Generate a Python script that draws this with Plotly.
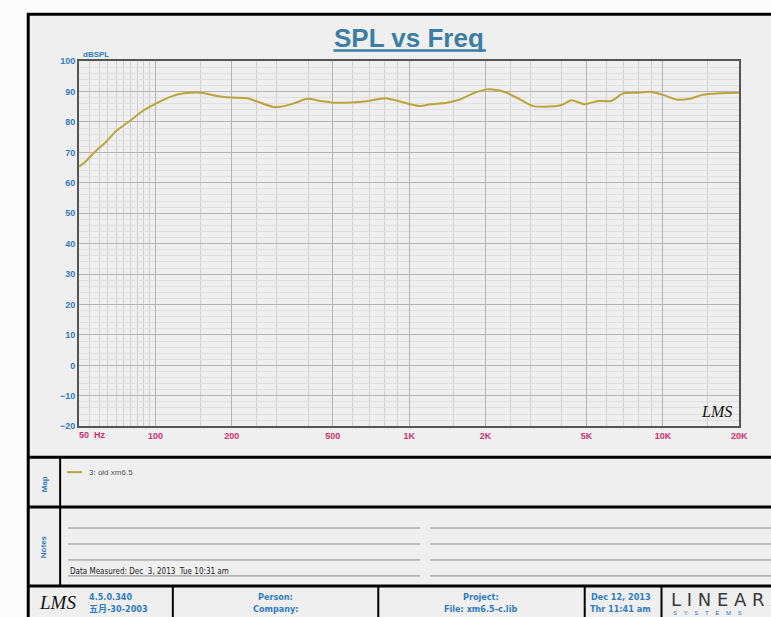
import math
import plotly.graph_objects as go

# ---------------- data ----------------
freq_hz = [50, 53.3, 58.3, 63.8, 69.9, 77.7, 89.0, 98.9, 116.7, 129.7, 150.9, 175.5,
           198.0, 230.2, 259.6, 292.8, 311, 351, 396, 447, 504, 586, 682, 805, 922,
           1009, 1105, 1210, 1407, 1587, 1790, 2021, 2212, 2421, 2732, 3081, 3807,
           4042, 4359, 4919, 5549, 6266, 6961, 7852, 8860, 9993, 11283, 12726,
           14352, 16700, 19700, 20000]
spl_db = [65.3, 67.2, 70.5, 73.4, 77.0, 79.8, 83.6, 85.8, 88.5, 89.4, 89.6, 88.5,
          88.0, 87.8, 86.3, 84.9, 85.0, 86.1, 87.6, 86.9, 86.3, 86.4, 86.8, 87.8, 86.7,
          85.8, 85.2, 85.8, 86.3, 87.4, 89.4, 90.7, 90.5, 89.6, 87.4, 85.2, 85.2,
          85.8, 87.1, 85.8, 86.9, 86.9, 89.4, 89.6, 89.9, 88.9, 87.4, 87.6,
          88.9, 89.4, 89.6, 89.6]

x_tick_vals = [50, 100, 200, 500, 1000, 2000, 5000, 10000, 20000]
x_tick_text = ["", "100", "200", "500", "1K", "2K", "5K", "10K", "20K"]
x_minor_vals = [55, 60, 65, 70, 75, 80, 85, 90, 95,
                150, 250, 300, 400, 600, 700, 800, 900,
                1500, 2500, 3000, 4000, 6000, 7000, 8000, 9000,
                15000]
series_name = "3: old xm6.5"

W, H = 771, 617


# screen pixel -> paper fraction (compensates the capture offset/scale seen)
def px(x):
    return ((x + 1.3) / 0.991) / W


def py(y):
    return 1 - ((y - 3.8) / 0.986) / H


TITLE_C = "#3b7ea3"
BLUE = "#2f7cc0"
MAG = "#cf2f6e"
CURVE = "#bba53a"
FONT = "Liberation Sans, Arial, sans-serif"
NARROW = "Liberation Sans Narrow, DejaVu Sans Condensed, Noto Sans CJK SC, sans-serif"

fig = go.Figure()
fig.add_trace(go.Scatter(x=freq_hz, y=spl_db, mode="lines", name=series_name,
                         line=dict(color=CURVE, width=2, shape="spline", smoothing=0.6),
                         showlegend=False, hoverinfo="skip"))

shapes = []


def line(x0, y0, x1, y1, color="black", width=3):
    shapes.append(dict(type="line", xref="paper", yref="paper",
                       x0=px(x0), y0=py(y0), x1=px(x1), y1=py(y1),
                       line=dict(color=color, width=width), layer="below"))


# outer panel
shapes.append(dict(type="rect", xref="paper", yref="paper",
                   x0=px(27), y0=py(13), x1=px(800), y1=py(650),
                   fillcolor="#efefef", line=dict(color="black", width=3), layer="below"))
line(27, 457, 780, 457)
line(27, 507, 780, 507)
line(27, 586, 780, 586)
line(59, 457, 59, 586, width=2)
for xv in [172, 378, 585, 662]:
    line(xv, 586, xv, 630, width=2)
# title underline
line(333, 49.5, 486, 49.5, color=TITLE_C, width=2.5)
# notes lines
for yv in [528, 544, 560, 576]:
    line(67, yv, 420, yv, color="#8a8a8a", width=1)
    line(430, yv, 780, yv, color="#8a8a8a", width=1)
# legend line
line(66, 472, 81, 472, color=CURVE, width=2)

ann = []


def text(x, y, t, size=9, color=BLUE, xanchor="center", yanchor="middle",
         family=NARROW, weight="bold", angle=0, style="normal"):
    ann.append(dict(x=px(x), y=py(y), xref="paper", yref="paper", text=t,
                    showarrow=False, xanchor=xanchor, yanchor=yanchor, textangle=angle,
                    font=dict(size=size, color=color, family=family, weight=weight,
                              style=style)))


text(409, 37, "SPL vs Freq", size=26, color=TITLE_C, family=FONT)
text(80, 53, "dBSPL", size=8, color=BLUE, xanchor="left", family=FONT)
text(76, 435, "50\u00a0\u00a0Hz", size=9, color=MAG, xanchor="left", family=FONT)
text(700, 411, "LMS", size=16, color="#111", xanchor="left", family="Liberation Serif, serif",
     weight="normal", style="italic")
text(86, 472, series_name, size=8, color="#555", xanchor="left", family=FONT, weight="normal")
text(43, 484, "Map", size=8, angle=-90, family=FONT)
text(43, 547, "Notes", size=8, angle=-90, family=FONT)
text(67, 572, "Data Measured: Dec  3, 2013  Tue 10:31 am", size=8, color="#222",
     xanchor="left", family=NARROW, weight="normal")
# footer
text(36, 603, "LMS", size=19, color="#111", xanchor="left", family="Liberation Serif, serif",
     weight="normal", style="italic")
text(86, 597, "4.5.0.340", size=9, xanchor="left")
text(86, 609, "五月-30-2003", size=9, xanchor="left")
text(275, 597, "Person:", size=9)
text(275, 609, "Company:", size=9)
text(481, 597, "Project:", size=9)
text(481, 609, "File: xm6.5-c.lib", size=9)
text(621, 597, "Dec 12, 2013", size=9)
text(621, 609, "Thr 11:41 am", size=9)
text(670, 600, "L\u00a0I\u00a0N\u00a0E\u00a0A\u00a0R\u00a0X", size=18, color="#3a3a3a",
     xanchor="left", family="DejaVu Sans, sans-serif", weight="normal")
text(672, 613, "S\u00a0\u00a0\u00a0\u00a0Y\u00a0\u00a0\u00a0\u00a0S\u00a0\u00a0\u00a0\u00a0T\u00a0\u00a0\u00a0\u00a0E\u00a0\u00a0\u00a0\u00a0M\u00a0\u00a0\u00a0\u00a0S",
     size=6, color=BLUE, xanchor="left", family=FONT, weight="normal")

fig.update_layout(
    width=W, height=H, margin=dict(l=0, r=0, t=0, b=0),
    paper_bgcolor="#fcfcfc", plot_bgcolor="#fbfbfb",
    shapes=shapes, annotations=ann, showlegend=False,
    xaxis=dict(type="log", range=[math.log10(50), math.log10(20000)],
               domain=[px(78), px(740)],
               tickmode="array", tickvals=x_tick_vals, ticktext=x_tick_text,
               tickfont=dict(size=9, color=MAG, family=FONT, weight="bold"),
               showgrid=True, gridcolor="#b3b3b3", gridwidth=1,
               minor=dict(tickmode="array", tickvals=x_minor_vals, showgrid=True,
                          gridcolor="#d0d0d0", gridwidth=1, ticks=""),
               showline=True, linecolor="#555", linewidth=2, mirror=True,
               ticks="", zeroline=False),
    yaxis=dict(range=[-20, 100], domain=[py(426), py(60)],
               tickmode="linear", tick0=0, dtick=10,
               tickfont=dict(size=9, color=BLUE, family=FONT, weight="bold"),
               showgrid=True, gridcolor="#b3b3b3", gridwidth=1,
               minor=dict(dtick=2, showgrid=True, gridcolor="#e0e0e0", gridwidth=1, ticks=""),
               showline=True, linecolor="#555", linewidth=2, mirror=True,
               ticks="", zeroline=False),
)

fig.write_html("out.html", config={"displayModeBar": False},
               post_script="document.body.style.margin='0';document.body.style.overflow='hidden';")
